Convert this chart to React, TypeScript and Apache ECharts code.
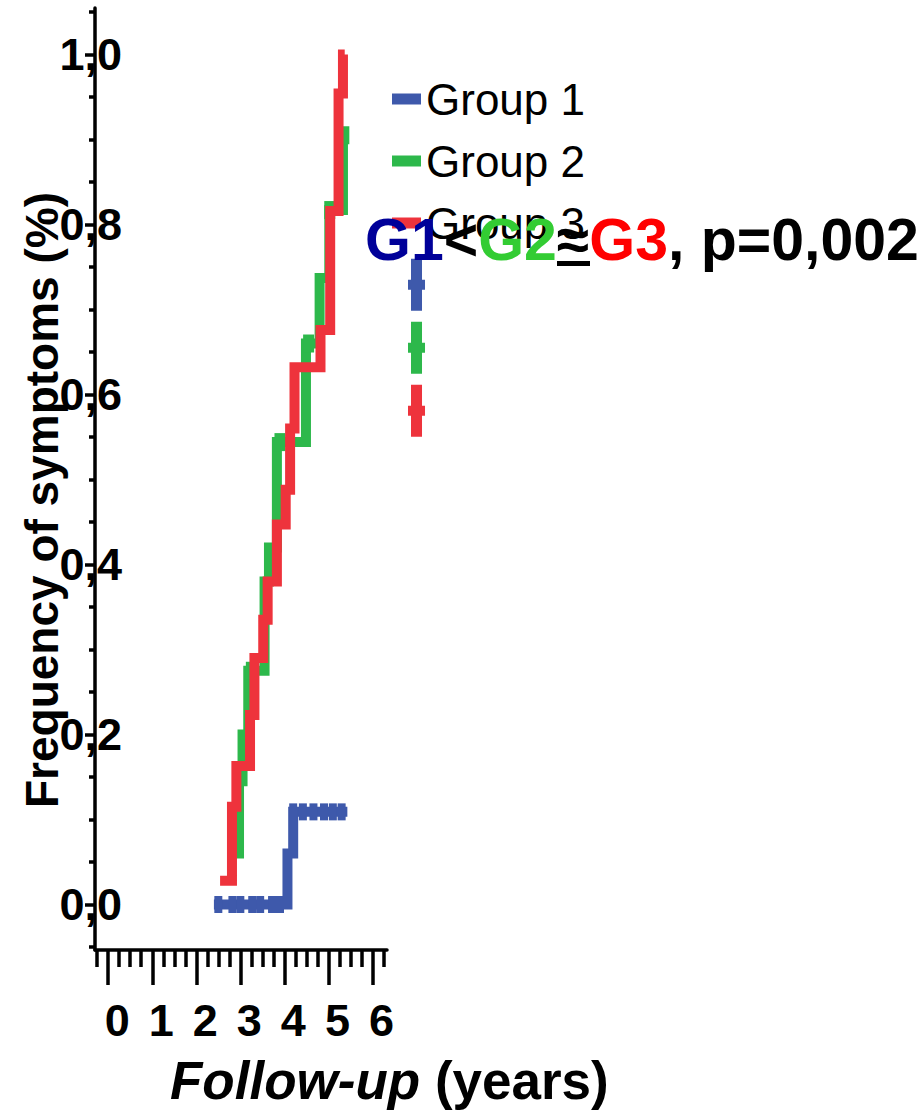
import React, { useEffect, useRef } from "react";
import * as echarts from "echarts";

// ---- data ----
const seriesNames = ["Group 1", "Group 2", "Group 3"];
const group1 = [[2.4, 0], [4.07, 0.06], [4.2, 0.109], [5.43, 0.109]];
const group2 = [
  [2.75, 0.06], [2.97, 0.145], [3.05, 0.2], [3.18, 0.275], [3.55, 0.38], [3.65, 0.42],
  [3.83, 0.544], [4.49, 0.66], [4.8, 0.737], [5.02, 0.817], [5.33, 0.905], [5.4, 0.905],
];
const group3 = [
  [2.54, 0.028], [2.81, 0.115], [2.91, 0.163], [3.22, 0.223], [3.32, 0.29], [3.52, 0.335],
  [3.62, 0.38], [3.83, 0.447], [4.03, 0.488], [4.13, 0.56], [4.23, 0.632], [4.82, 0.676],
  [5.04, 0.816], [5.23, 0.954], [5.33, 1.0], [5.37, 1.0],
];
const censor1 = [
  [2.5, 0], [2.82, 0], [3.0, 0], [3.27, 0], [3.45, 0], [3.72, 0], [3.9, 0],
  [4.2, 0.109], [4.42, 0.109], [4.66, 0.109], [4.9, 0.109], [5.1, 0.109], [5.3, 0.109],
];
const censor2 = [[3.25, 0.275], [3.9, 0.544], [4.55, 0.66], [5.03, 0.817], [5.35, 0.905]];
const tailMarks1 = [[7.0, 0.729]];
const tailMarks2 = [[7.0, 0.655]];
const tailMarks3 = [[7.0, 0.581]];

const xTickLabels = [0, 1, 2, 3, 4, 5, 6];
const xMinorTicks = [-0.25, 0.25, 0.5, 0.75, 1.25, 1.5, 1.75, 2.25, 2.5, 2.75, 3.25, 3.5, 3.75, 4.25, 4.5, 4.75, 5.25, 5.5, 5.75, 6.25];
const yTickLabels = [0, 0.2, 0.4, 0.6, 0.8, 1.0];
const yMinorTicks = [-0.05, 0.05, 0.1, 0.15, 0.25, 0.3, 0.35, 0.45, 0.5, 0.55, 0.65, 0.7, 0.75, 0.85, 0.9, 0.95, 1.05];

const BLUE = "#3E59AB";
const GREEN = "#2DB84B";
const RED = "#EE333C";
const FONT = '"Liberation Sans", Arial, Helvetica, sans-serif';

const X_MIN = -0.3;
const X_MAX = 6.33;
const X_MAX_DATA = 7.3;
const Y_MIN = -0.0535;
const Y_MAX = 1.0547;

const tailSymbol = "path://M3,0 L14,0 L14,21 L17,21 L17,31 L14,31 L14,52 L3,52 L3,31 L0,31 L0,21 L3,21 Z";

export default function App() {
  const ref = useRef<HTMLDivElement>(null);
  useEffect(() => {
    if (!ref.current) return;
    const chart = echarts.init(ref.current, null, { renderer: "svg" });
    const axisLineStyle = { color: "#000", width: 3.5 };
    const lineSeries = (name: string, data: number[][], color: string, z: number) => ({
      name, type: "line", xAxisIndex: 2, yAxisIndex: 2, data, step: "end",
      symbol: "none", showSymbol: false, z,
      lineStyle: { width: 10, color, cap: "butt", join: "miter" },
      itemStyle: { color },
    });
    const censorSeries = (name: string, data: number[][], color: string, z: number, symbol = "rect", size: any = [8, 17]) => ({
      name, type: "scatter", xAxisIndex: 2, yAxisIndex: 2, data, symbol, symbolSize: size, z,
      itemStyle: { color, opacity: 1 }, clip: false,
    });
    chart.setOption({
      animation: false,
      backgroundColor: "#fff",
      grid: [
        { left: 95, top: 8, width: 292, height: 942, outerBoundsMode: "none" },
        { left: 95, top: 8, width: 292 * (X_MAX_DATA - X_MIN) / (X_MAX - X_MIN), height: 942, outerBoundsMode: "none" },
      ],
      xAxis: [
        {
          gridIndex: 0, type: "value", min: X_MIN, max: X_MAX, position: "bottom",
          axisLine: { show: true, onZero: false, lineStyle: axisLineStyle },
          axisTick: { show: true, customValues: xTickLabels, length: 35, lineStyle: axisLineStyle },
          axisLabel: {
            show: true, customValues: xTickLabels, margin: 48, color: "#000",
            fontSize: 45, fontWeight: "bold", fontFamily: FONT, padding: [0, 0, 0, 18],
          },
          splitLine: { show: false },
        },
        {
          gridIndex: 0, type: "value", min: X_MIN, max: X_MAX, position: "bottom", offset: 0,
          axisLine: { show: false, onZero: false },
          axisTick: { show: true, customValues: xMinorTicks, length: 17, lineStyle: axisLineStyle },
          axisLabel: { show: false },
          splitLine: { show: false },
        },
        { gridIndex: 1, type: "value", min: X_MIN, max: X_MAX_DATA, show: false, splitLine: { show: false } },
      ],
      yAxis: [
        {
          gridIndex: 0, type: "value", min: Y_MIN, max: Y_MAX, position: "left",
          axisLine: { show: true, onZero: false, lineStyle: axisLineStyle },
          axisTick: { show: true, customValues: yTickLabels, length: 10, lineStyle: axisLineStyle },
          axisLabel: {
            show: true, customValues: yTickLabels, margin: -27, color: "#000",
            fontSize: 45, fontWeight: "bold", fontFamily: FONT, padding: [8, 0, 0, 0],
            formatter: (v: number) => v.toFixed(1).replace(".", ","),
          },
          splitLine: { show: false },
        },
        {
          gridIndex: 0, type: "value", min: Y_MIN, max: Y_MAX, position: "left", offset: 0,
          axisLine: { show: false, onZero: false },
          axisTick: { show: true, customValues: yMinorTicks, length: 6, lineStyle: axisLineStyle },
          axisLabel: { show: false },
          splitLine: { show: false },
        },
        { gridIndex: 1, type: "value", min: Y_MIN, max: Y_MAX, show: false, splitLine: { show: false } },
      ],
      legend: {
        data: seriesNames, orient: "vertical", left: 392, top: 77, padding: 0, icon: "rect",
        itemWidth: 29, itemHeight: 11, itemGap: 18,
        textStyle: { fontSize: 44, color: "#000", fontFamily: FONT, lineHeight: 44 },
        selectedMode: false,
      },
      series: [
        lineSeries(seriesNames[0], group1, BLUE, 3),
        censorSeries("c1", censor1, BLUE, 3),
        lineSeries(seriesNames[1], group2, GREEN, 4),
        censorSeries("c2", censor2, GREEN, 4, "rect", [11, 18]),
        lineSeries(seriesNames[2], group3, RED, 5),
        censorSeries("t1", tailMarks1, BLUE, 5, tailSymbol, [17, 52]),
        censorSeries("t2", tailMarks2, GREEN, 5, tailSymbol, [17, 52]),
        censorSeries("t3", tailMarks3, RED, 5, tailSymbol, [17, 52]),
      ],
      graphic: [
        {
          type: "text", x: 42, y: 500, rotation: Math.PI / 2, z: 100,
          style: {
            text: "Frequency of symptoms (%)", fill: "#000", fontSize: 46, fontWeight: "bold",
            fontFamily: FONT, align: "center", verticalAlign: "middle",
          },
        },
        {
          type: "text", x: 170, y: 1080, z: 100,
          style: {
            text: "{i|Follow-up} (years)", fill: "#000", fontSize: 53, fontWeight: "bold",
            fontFamily: FONT, verticalAlign: "middle",
            rich: { i: { fontStyle: "italic", fontWeight: "bold", fontSize: 53, fontFamily: FONT, fill: "#000" } },
          },
        },
        {
          type: "text", x: 365, y: 240, z: 100,
          style: {
            text: "{a|G1}{k|<}{b|G2}{k|\u2248}{c|G3}{k|, p=0,002}",
            fontSize: 59, fontWeight: "bold", fontFamily: FONT, verticalAlign: "middle",
            rich: {
              a: { fill: "#000099", fontSize: 59, fontWeight: "bold", fontFamily: FONT },
              b: { fill: "#33CC33", fontSize: 59, fontWeight: "bold", fontFamily: FONT },
              c: { fill: "#FF0000", fontSize: 59, fontWeight: "bold", fontFamily: FONT },
              k: { fill: "#000000", fontSize: 59, fontWeight: "bold", fontFamily: FONT },
            },
          },
        },
        {
          type: "rect", z: 100,
          shape: { x: 557, y: 261, width: 33, height: 5 },
          style: { fill: "#000" },
        },
      ],
    });
    return () => chart.dispose();
  }, []);
  return (
    <div
      ref={ref}
      style={{ position: "absolute", left: 0, top: 0, width: 920, height: 1113 }}
    />
  );
}
